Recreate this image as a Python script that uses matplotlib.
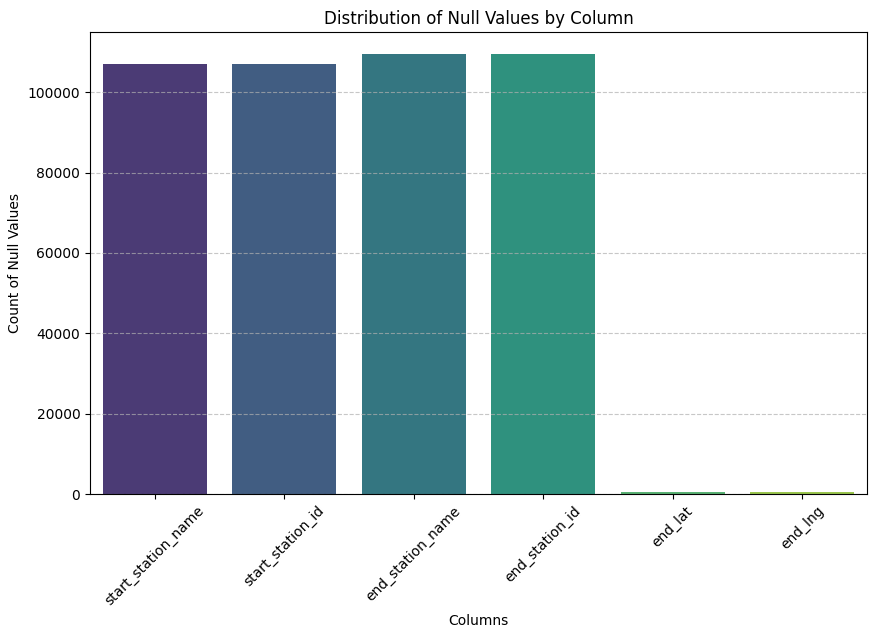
import matplotlib
matplotlib.use("Agg")
import matplotlib.pyplot as plt
import seaborn as sns
import pandas as pd

columns = ["start_station_name", "start_station_id", "end_station_name", "end_station_id", "end_lat", "end_lng"]
null_counts = [107000, 107000, 109500, 109500, 600, 600]

df = pd.DataFrame({"col": columns, "n": null_counts})
fig = plt.figure(figsize=(8.76, 6.38), dpi=100)
ax = fig.add_axes([90/876, 1-494/638, 777/876, 462/638])
sns.barplot(data=df, x="col", y="n", hue="col", palette="viridis", legend=False, ax=ax)
ax.set_title("Distribution of Null Values by Column")
ax.set_xlabel("Columns")
ax.set_ylabel("Count of Null Values")
ax.tick_params(axis="x", rotation=45)
ax.grid(axis="y", linestyle="--", alpha=0.7)
fig.savefig("out.png", dpi=100)
